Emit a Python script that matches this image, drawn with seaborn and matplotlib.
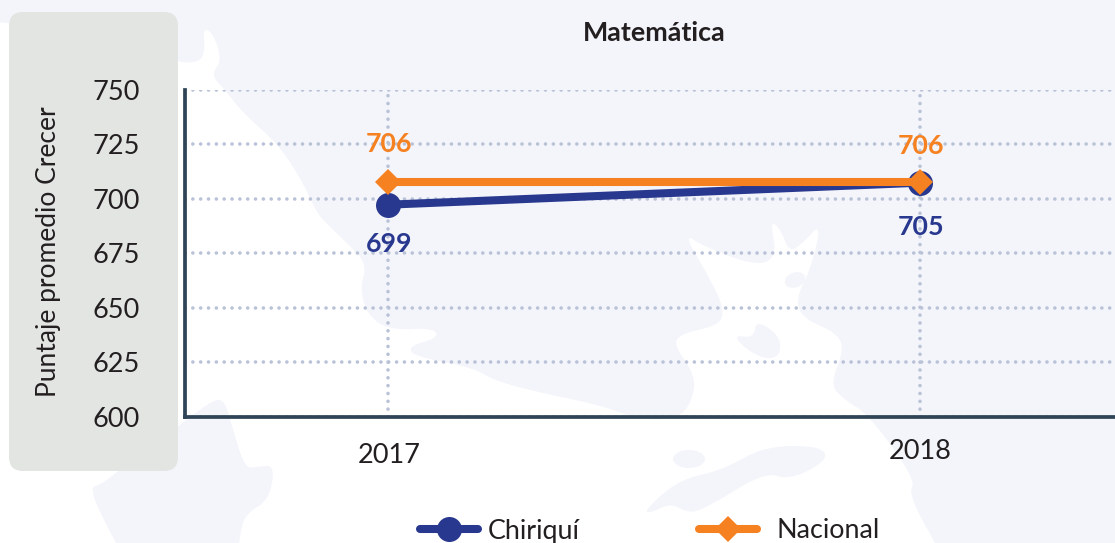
import seaborn as sns
import matplotlib.pyplot as plt
import pandas as pd
from matplotlib.patches import Polygon, FancyBboxPatch, Ellipse
from matplotlib.transforms import ScaledTranslation

# datos
anios = [2017, 2018]
chiriqui = [697.2, 707.3]
nacional = [707.6, 707.6]
etiquetas_chiriqui = ["699", "705"]
etiquetas_nacional = ["706", "706"]
ticks_y = [600, 625, 650, 675, 700, 725, 750]

AZUL = "#29388f"
NARANJA = "#f68121"
TEXTO = "#231f20"
MAPA = "#f4f5fb"
W, H = 1115, 543

df = pd.DataFrame({
    "anio": anios + anios,
    "puntaje": chiriqui + nacional,
    "serie": ["Chiriquí"] * 2 + ["Nacional"] * 2,
})


def suavizar(puntos, veces=3):
    # recorte de esquinas para que la costa no quede en linea recta
    for _ in range(veces):
        nuevos = []
        for i, (x0, y0) in enumerate(puntos):
            x1, y1 = puntos[(i + 1) % len(puntos)]
            nuevos.append((0.75 * x0 + 0.25 * x1, 0.75 * y0 + 0.25 * y1))
            nuevos.append((0.25 * x0 + 0.75 * x1, 0.25 * y0 + 0.75 * y1))
        puntos = nuevos
    return puntos


sns.set_theme(style="white")
plt.rcParams["font.family"] = ["Lato", "DejaVu Sans"]

fig = plt.figure(figsize=(W / 100, H / 100), dpi=100, facecolor="white")

# fondo: mapa de agua y panel gris, en pixeles
fondo = fig.add_axes([0, 0, 1, 1], zorder=0)
fondo.set_xlim(0, W)
fondo.set_ylim(H, 0)
fondo.axis("off")

tierra = [
    (-60, -60), (-60, 18), (0, 22), (30, 26), (178, 63), (200, 62), (205, 50), (203, 28), (213, 33),
    (222, 60), (211, 75), (225, 90), (243, 113), (277, 143), (300, 177), (317, 213),
    (327, 224), (348, 244), (367, 264), (360, 288), (367, 314), (388, 330), (434, 328),
    (438, 338), (409, 346), (413, 356), (474, 368), (493, 380), (537, 392), (600, 405),
    (640, 420), (682, 418), (695, 392), (693, 372), (674, 345), (680, 334), (720, 325),
    (724, 308), (709, 277), (683, 233), (705, 247), (756, 266), (777, 257), (770, 220),
    (781, 230), (789, 252), (802, 244), (822, 222), (810, 271), (796, 298), (802, 318),
    (837, 333), (844, 350), (830, 385), (845, 400), (869, 415), (916, 480), (908, 495),
    (945, 560), (960, 610), (1160, 610), (1180, 610), (1180, 590), (1180, -40), (1180, -60),
    (1160, -60), (-40, -60),
]
isla_sur = [
    (224, 398), (210, 402), (177, 427), (120, 470), (100, 485), (91, 487), (97, 507),
    (125, 560), (135, 590), (235, 590), (240, 530), (247, 513), (269, 500), (275, 465), (257, 467),
    (245, 468), (233, 430),
]
isla_larga = [
    (643, 512), (678, 480), (723, 470), (765, 446), (821, 446), (828, 460), (790, 480),
    (765, 472), (711, 505), (690, 514), (671, 503), (653, 512),
]
isla_bahia = [
    (733, 335), (754, 338), (756, 320), (779, 335), (781, 354), (768, 360), (747, 350),
]
for forma in [tierra, isla_sur, isla_larga, isla_bahia]:
    fondo.add_patch(Polygon(suavizar(forma), closed=True, fc=MAPA, ec="none"))
fondo.add_patch(Ellipse((689, 459), 32, 18, fc=MAPA, ec="none"))
fondo.add_patch(Ellipse((795, 280), 21, 15, angle=-20, fc=MAPA, ec="none"))

fondo.add_patch(FancyBboxPatch((21, 24), 145, 435, boxstyle="round,pad=12,rounding_size=14",
                               fc="#e3e5e3", ec="none"))

# grafico
ax = fig.add_axes([184.5 / W, 1 - 416.6 / H, 930.5 / W, 327 / H], zorder=1)
ax.patch.set_alpha(0)

sns.lineplot(data=df, x="anio", y="puntaje", hue="serie", style="serie",
             palette={"Chiriquí": AZUL, "Nacional": NARANJA},
             markers={"Chiriquí": "o", "Nacional": "D"}, dashes=False,
             linewidth=5.8, markersize=18, markeredgewidth=0, errorbar=None, ax=ax)
ax.lines[1].set_markersize(13)

ax.set_xlim(2017 - 203.5 / 532, 2018 + 195 / 532)
ax.set_ylim(600, 750)
ax.set_xticks(anios)
ax.set_yticks(ticks_y)
ax.set_xlabel("")
ax.set_ylabel("Puntaje promedio Crecer", fontsize=19, color=TEXTO)
ax.yaxis.set_label_coords(-123 / 930, 0.505)

ax.tick_params(axis="x", length=0, pad=16, labelsize=19.5, labelcolor=TEXTO)
ax.tick_params(axis="y", length=0, pad=32, labelsize=19.5, labelcolor=TEXTO)
for lab in ax.get_xticklabels()[:1]:
    lab.set_transform(lab.get_transform() + ScaledTranslation(1 / 100, -4 / 100, fig.dpi_scale_trans))

ax.set_axisbelow(True)
ax.grid(True, color="#b9c2d6", lw=2.6, linestyle=(0, (0.01, 2.16)), dash_capstyle="round")

sns.despine(ax=ax, top=True, right=True)
for lado in ["left", "bottom"]:
    ax.spines[lado].set_color("#2f4557")
    ax.spines[lado].set_linewidth(2.7)

# etiquetas de valores
desp_nacional = [27.5, 26]
desp_chiriqui = [-28, -32]
for i, anio in enumerate(anios):
    ax.annotate(etiquetas_nacional[i], (anio, nacional[i]), xytext=(0.5, desp_nacional[i]),
                textcoords="offset points", ha="center", va="center",
                fontsize=19.3, fontweight="bold", color=NARANJA)
    ax.annotate(etiquetas_chiriqui[i], (anio, chiriqui[i]), xytext=(0.5, desp_chiriqui[i]),
                textcoords="offset points", ha="center", va="center",
                fontsize=19.3, fontweight="bold", color=AZUL)

fig.text(654 / W, 1 - 33 / H, "Matemática", ha="center", va="center",
         fontsize=19.4, fontweight="bold", color=TEXTO)

# leyenda: dos bloques separados como en el original
handles, labels = ax.get_legend_handles_labels()
for h in handles:
    h.set_solid_capstyle("round")
handles[0].set_markersize(18)
handles[1].set_markersize(13)
handles[0].set_markeredgewidth(0)
handles[1].set_markeredgewidth(0)

ley1 = ax.legend(handles[:1], labels[:1], loc="center left", bbox_to_anchor=(420 / W, 1 - 531 / H),
                 bbox_transform=fig.transFigure, frameon=False, fontsize=19.4, labelcolor=TEXTO,
                 handlelength=2.15, handletextpad=0.37, borderpad=0, borderaxespad=0)
ax.add_artist(ley1)
ax.legend(handles[1:], labels[1:], loc="center left", bbox_to_anchor=(699 / W, 1 - 531 / H),
          bbox_transform=fig.transFigure, frameon=False, fontsize=19.4, labelcolor=TEXTO,
          handlelength=2.15, handletextpad=0.73, borderpad=0, borderaxespad=0)

fig.savefig("out.png", dpi=100)
